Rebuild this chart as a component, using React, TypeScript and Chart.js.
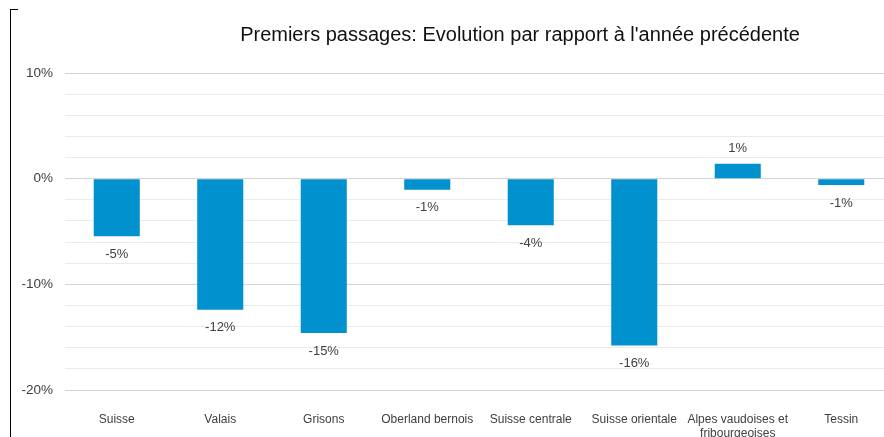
import React, { useEffect, useRef } from "react";
import { Chart, registerables } from "chart.js";

Chart.register(...registerables);

const categories: (string | string[])[] = [
  "Suisse",
  "Valais",
  "Grisons",
  "Oberland bernois",
  "Suisse centrale",
  "Suisse orientale",
  ["Alpes vaudoises et", "fribourgeoises"],
  "Tessin",
];
const changePct: number[] = [-5.45, -12.4, -14.6, -1.04, -4.4, -15.8, 1.4, -0.6];
const yMin = -20;
const yMax = 10;
const yStep = 2;
const majorStep = 10;
const titleText = "Premiers passages: Evolution par rapport à l'année précédente";

const FONT = "'Liberation Sans', Arial, sans-serif";
const TEXT = "#404040";

const titlePlugin = {
  id: "customTitle",
  afterDraw(chart: any) {
    const ctx = chart.ctx;
    ctx.save();
    ctx.font = `20px ${FONT}`;
    ctx.fillStyle = "#111111";
    ctx.textAlign = "center";
    ctx.textBaseline = "alphabetic";
    ctx.fillText(titleText, 520, 41);
    ctx.restore();
  },
};

const valueLabelPlugin = {
  id: "valueLabels",
  afterDatasetsDraw(chart: any) {
    const ctx = chart.ctx;
    const meta = chart.getDatasetMeta(0);
    const data = chart.data.datasets[0].data as number[];
    ctx.save();
    ctx.font = `13px ${FONT}`;
    ctx.fillStyle = TEXT;
    ctx.textAlign = "center";
    ctx.textBaseline = "middle";
    meta.data.forEach((bar: any, i: number) => {
      const v = data[i];
      const y = v < 0 ? bar.y + 18 : bar.y - 15;
      ctx.fillText(`${Math.round(v)}%`, bar.x, y);
    });
    ctx.restore();
  },
};

export default function App() {
  const ref = useRef<HTMLCanvasElement | null>(null);

  useEffect(() => {
    if (!ref.current) return;
    const chart = new Chart(ref.current, {
      type: "bar",
      data: {
        labels: categories,
        datasets: [
          {
            data: changePct,
            backgroundColor: "#0091CE",
            borderWidth: 0,
            barPercentage: 0.445,
            categoryPercentage: 1,
          },
        ],
      },
      plugins: [titlePlugin, valueLabelPlugin],
      options: {
        animation: false,
        responsive: false,
        maintainAspectRatio: false,
        layout: { padding: { top: 73, left: 0, right: 7, bottom: 0 } },
        plugins: {
          legend: { display: false },
          title: { display: false },
          tooltip: { enabled: false },
        },
        scales: {
          x: {
            grid: { display: false, drawTicks: false },
            border: { display: false },
            ticks: {
              color: TEXT,
              font: { family: FONT, size: 12, lineHeight: 1.2 },
              padding: 22,
              maxRotation: 0,
              autoSkip: false,
            },
            afterFit(scale: any) {
              scale.height = 47;
            },
          },
          y: {
            min: yMin,
            max: yMax,
            grid: {
              drawTicks: false,
              color: (c: any) =>
                c.tick && Math.abs(c.tick.value % majorStep) < 1e-9 ? "#d4d4d4" : "#ebebeb",
              lineWidth: 1,
            },
            border: { display: false },
            ticks: {
              stepSize: yStep,
              color: TEXT,
              font: { family: FONT, size: 13.5 },
              padding: 12,
              callback: (v: any) =>
                Math.abs(Number(v) % majorStep) < 1e-9 ? `${v}%` : "",
            },
            afterFit(scale: any) {
              scale.width = 65;
            },
          },
        },
      },
    });
    return () => chart.destroy();
  }, []);

  return (
    <div
      style={{
        position: "fixed",
        left: 0,
        top: 0,
        width: 884,
        height: 437,
        overflow: "hidden",
        background: "#ffffff",
      }}
    >
      <canvas ref={ref} width={900} height={437} style={{ display: "block" }} />
      <div
        style={{
          position: "absolute",
          left: 10,
          top: 9,
          width: 7,
          height: 440,
          borderLeft: "1.5px solid #000",
          borderTop: "1.5px solid #000",
        }}
      />
    </div>
  );
}
